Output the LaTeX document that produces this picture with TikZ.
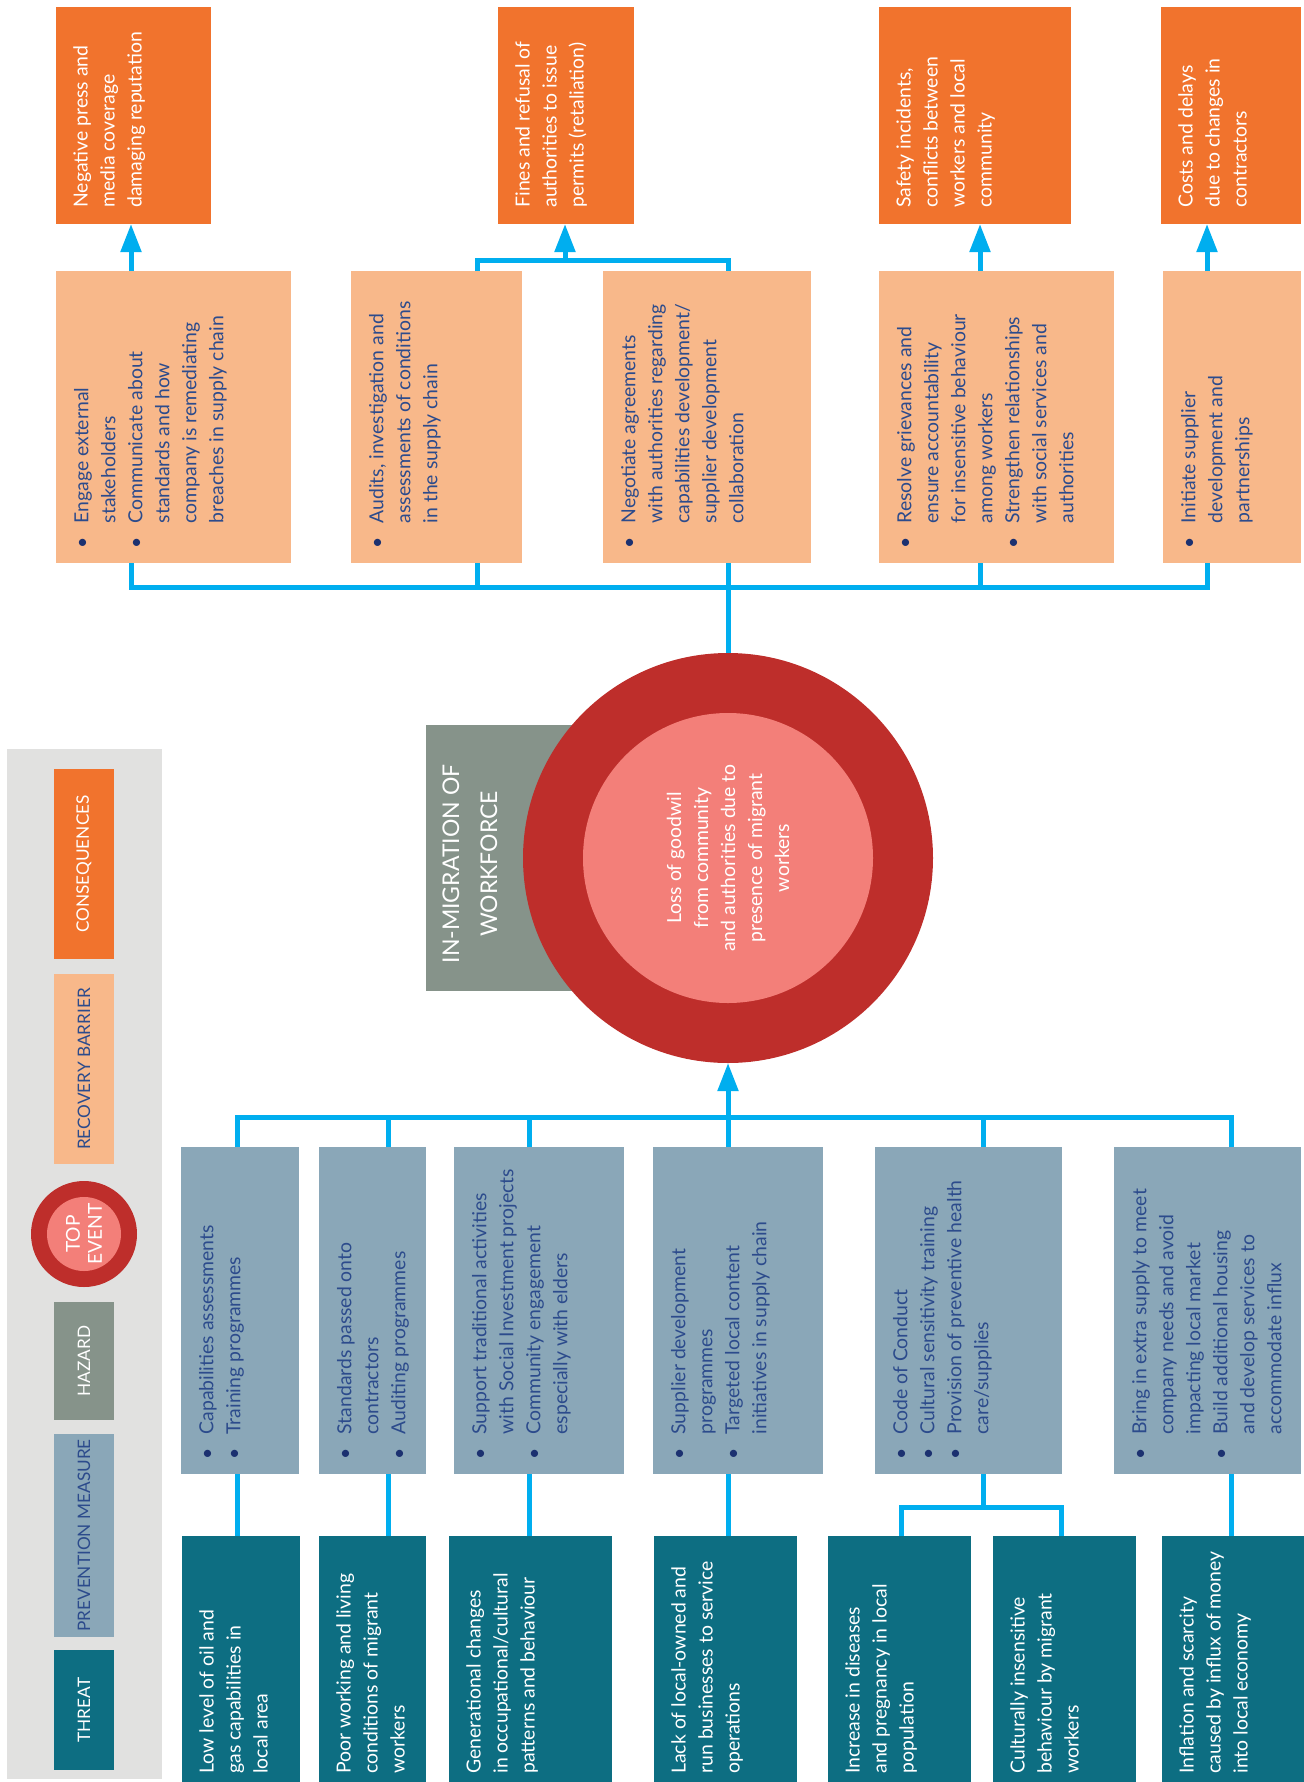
\documentclass[tikz,border=0pt]{standalone}
\usepackage{fontspec}
\setmainfont{Lato}
\usepackage{xcolor}
\usepackage{tikz}
\usetikzlibrary{arrows.meta,positioning,fit,calc}
\definecolor{bowOrange}{HTML}{F1732D}
\definecolor{bowPeach}{HTML}{F8B88A}
\definecolor{bowSlate}{HTML}{8AA7B8}
\definecolor{bowTeal}{HTML}{0D6E82}
\definecolor{bowHazard}{HTML}{86938A}
\definecolor{bowRed}{HTML}{BE2E2B}
\definecolor{bowPink}{HTML}{F37F79}
\definecolor{bowLink}{HTML}{00AEEF}
\definecolor{bowPanel}{HTML}{E1E1E0}
\definecolor{bowText}{HTML}{2C4B8C}
\definecolor{bowNavy}{HTML}{1C3170}
\newenvironment{blist}{\begin{tabular}{@{}l@{\hspace{7pt}}l@{}}}{\end{tabular}}
\newcommand{\itm}{\textcolor{bowNavy}{\textbullet} &}
\newcommand{\nxt}{\\ &}

\begin{document}
\begin{tikzpicture}[
    x=0.5pt, y=-0.5pt,
    font=\fontsize{9.7}{13.5}\selectfont,
    blk/.style={inner sep=0pt, outer sep=0pt},
    cons/.style={blk, fill=bowOrange},
    recov/.style={blk, fill=bowPeach},
    prev/.style={blk, fill=bowSlate},
    threat/.style={blk, fill=bowTeal},
    txt/.style={rotate=90, anchor=north west, align=left, inner sep=0pt},
    wtxt/.style={txt, text=white},
    btxt/.style={txt, text=bowText},
    legtxt/.style={rotate=90, align=center, inner sep=0pt, font=\fontsize{8.6}{11}\selectfont},
    conn/.style={draw=bowLink, line width=2.5pt},
    arr/.style={conn, -{Triangle[width=10pt, length=14pt]}}
]
\useasboundingbox (0,0) rectangle (1304,1782);

% legend
\node[blk, fill=bowPanel, fit={(7,749) (162,1779)}] (legend) {};
\node[cons, fit={(54,769) (114,959)}] (lcons) {};
\node[legtxt, text=white] (lconst) at (lcons.center) {CONSEQUENCES};
\node[recov, fit={(54,974) (114,1164)}] (lrecov) {};
\node[legtxt, text=bowText] (lrecovt) at (lrecov.center) {RECOVERY BARRIER};
\node[blk, circle, fill=bowRed, minimum size=53pt] (ltop) at (84,1234) {};
\node[blk, circle, fill=bowPink, minimum size=37pt] (ltopin) at (ltop.center) {};
\node[legtxt, text=white, font=\fontsize{9.6}{11}\selectfont] (ltopt) at (ltop.center) {TOP\\EVENT};
\node[blk, fill=bowHazard, fit={(54,1302) (114,1420)}] (lhaz) {};
\node[legtxt, text=white] (lhazt) at (lhaz.center) {HAZARD};
\node[prev, fit={(54,1434) (114,1637)}] (lprev) {};
\node[legtxt, text=bowText] (lprevt) at (lprev.center) {PREVENTION MEASURE};
\node[threat, fit={(54,1650) (114,1770)}] (lthreat) {};
\node[legtxt, text=white] (lthreatt) at (lthreat.center) {THREAT};

% consequences
\node[cons, fit={(56,7) (211,224)}] (c1) {};
\node[cons, fit={(498,7) (634,224)}] (c2) {};
\node[cons, fit={(879,7) (1071,224)}] (c3) {};
\node[cons, fit={(1161,7) (1301,224)}] (c4) {};
\node[wtxt] (c1t) at ([shift={(17,-16)}]c1.south west) {Negative press and\\media coverage\\damaging reputation};
\node[wtxt] (c2t) at ([shift={(17,-16)}]c2.south west) {Fines and refusal of\\authorities to issue\\permits (retaliation)};
\node[wtxt] (c3t) at ([shift={(17,-16)}]c3.south west) {Safety incidents,\\conflicts between\\workers and local\\community};
\node[wtxt] (c4t) at ([shift={(17,-16)}]c4.south west) {Costs and delays\\due to changes in\\contractors};

% recovery barriers
\node[recov, fit={(56,271) (291,563)}] (r1) {};
\node[recov, fit={(351,271) (522,563)}] (r2) {};
\node[recov, fit={(603,271) (811,563)}] (r3) {};
\node[recov, fit={(879,271) (1114,563)}] (r4) {};
\node[recov, fit={(1163,271) (1301,563)}] (r5) {};
\node[btxt] (r1t) at ([shift={(13,-14)}]r1.south west) {\begin{blist}\itm Engage external\nxt stakeholders\\ \itm Communicate about\nxt standards and how\nxt company is remediating\nxt breaches in supply chain\end{blist}};
\node[btxt] (r2t) at ([shift={(13,-14)}]r2.south west) {\begin{blist}\itm Audits, investigation and\nxt assessments of conditions\nxt in the supply chain\end{blist}};
\node[btxt] (r3t) at ([shift={(13,-14)}]r3.south west) {\begin{blist}\itm Negotiate agreements\nxt with authorities regarding\nxt capabilities development/\nxt supplier development\nxt collaboration\end{blist}};
\node[btxt] (r4t) at ([shift={(13,-14)}]r4.south west) {\begin{blist}\itm Resolve grievances and\nxt ensure accountability\nxt for insensitive behaviour\nxt among workers\\ \itm Strengthen relationships\nxt with social services and\nxt authorities\end{blist}};
\node[btxt] (r5t) at ([shift={(13,-14)}]r5.south west) {\begin{blist}\itm Initiate supplier\nxt development and\nxt partnerships\end{blist}};

% hazard and top event
\node[blk, fill=bowHazard, fit={(426,725) (620,991)}] (haz) {};
\node[blk, circle, fill=bowRed, minimum size=205pt] (top) at (728,858) {};
\node[blk, circle, fill=bowPink, minimum size=145pt] (topin) at (top.center) {};
\node[legtxt, text=white, font=\fontsize{11.5}{19}\selectfont] (hazt) at (470,864) {IN-MIGRATION OF\\WORKFORCE};
\node[legtxt, text=white, font=\fontsize{9.7}{13.5}\selectfont] (topt) at (top.center) {Loss of goodwil\\from community\\and authorities due to\\presence of migrant\\workers};

% prevention measures
\node[prev, fit={(181,1147) (299,1474)}] (p1) {};
\node[prev, fit={(319,1147) (426,1474)}] (p2) {};
\node[prev, fit={(454,1147) (624,1474)}] (p3) {};
\node[prev, fit={(653,1147) (823,1474)}] (p4) {};
\node[prev, fit={(875,1147) (1062,1474)}] (p5) {};
\node[prev, fit={(1114,1147) (1301,1474)}] (p6) {};
\node[btxt] (p1t) at ([shift={(13,-14)}]p1.south west) {\begin{blist}\itm Capabilities assessments\\ \itm Training programmes\end{blist}};
\node[btxt] (p2t) at ([shift={(13,-14)}]p2.south west) {\begin{blist}\itm Standards passed onto\nxt contractors\\ \itm Auditing programmes\end{blist}};
\node[btxt] (p3t) at ([shift={(13,-14)}]p3.south west) {\begin{blist}\itm Support traditional activities\nxt with Social Investment projects\\ \itm Community engagement\nxt especially with elders\end{blist}};
\node[btxt] (p4t) at ([shift={(13,-14)}]p4.south west) {\begin{blist}\itm Supplier development\nxt programmes\\ \itm Targeted local content\nxt initiatives in supply chain\end{blist}};
\node[btxt] (p5t) at ([shift={(13,-14)}]p5.south west) {\begin{blist}\itm Code of Conduct\\ \itm Cultural sensitivity training\\ \itm Provision of preventive health\nxt care/supplies\end{blist}};
\node[btxt] (p6t) at ([shift={(13,-14)}]p6.south west) {\begin{blist}\itm Bring in extra supply to meet\nxt company needs and avoid\nxt impacting local market\\ \itm Build additional housing\nxt and develop services to\nxt accommodate influx\end{blist}};

% threats
\node[threat, fit={(182,1536) (300,1782)}] (t1) {};
\node[threat, fit={(319,1536) (426,1782)}] (t2) {};
\node[threat, fit={(449,1536) (612,1782)}] (t3) {};
\node[threat, fit={(654,1536) (797,1782)}] (t4) {};
\node[threat, fit={(828,1536) (971,1782)}] (t5) {};
\node[threat, fit={(993,1536) (1136,1782)}] (t6) {};
\node[threat, fit={(1162,1536) (1304,1782)}] (t7) {};
\node[wtxt] (t1t) at ([shift={(17,-8)}]t1.south west) {Low level of oil and\\gas capabilities in\\local area};
\node[wtxt] (t2t) at ([shift={(17,-8)}]t2.south west) {Poor working and living\\conditions of migrant\\workers};
\node[wtxt] (t3t) at ([shift={(17,-8)}]t3.south west) {Generational changes\\in occupational/cultural\\patterns and behaviour};
\node[wtxt] (t4t) at ([shift={(17,-8)}]t4.south west) {Lack of local-owned and\\run businesses to service\\operations};
\node[wtxt] (t5t) at ([shift={(17,-8)}]t5.south west) {Increase in diseases\\and pregnancy in local\\population};
\node[wtxt] (t6t) at ([shift={(17,-8)}]t6.south west) {Culturally insensitive\\behaviour by migrant\\workers};
\node[wtxt] (t7t) at ([shift={(17,-8)}]t7.south west) {Inflation and scarcity\\caused by influx of money\\into local economy};

% connector columns
\coordinate (ra) at (131,587);
\coordinate (rb) at (477,587);
\coordinate (rbus) at (728,587);
\coordinate (rd) at (980,587);
\coordinate (re) at (1207,587);
\coordinate (cj) at (565,260);
\coordinate (pa) at (237,1117);
\coordinate (pb) at (388,1117);
\coordinate (pc) at (529,1117);
\coordinate (pbus) at (728,1117);
\coordinate (pe) at (983,1117);
\coordinate (pf) at (1231,1117);
\coordinate (tj) at (983,1507);
\coordinate (t5k) at (901,1507);
\coordinate (t6k) at (1061,1507);

% recovery side
\draw[conn] (ra |- r1.south) -- (ra) -- (re) -- (re |- r5.south);
\draw[conn] (rb |- r2.south) -- (rb);
\draw[conn] (rd |- r4.south) -- (rd);
\draw[conn] (rbus |- r3.south) -- (top.north);
\draw[arr] (ra |- r1.north) -- (ra |- c1.south);
\draw[conn] (rb |- r2.north) |- (cj) -| (rbus |- r3.north);
\draw[arr] (cj) -- (cj |- c2.south);
\draw[arr] (rd |- r4.north) -- (rd |- c3.south);
\draw[arr] (re |- r5.north) -- (re |- c4.south);

% prevention side
\draw[conn] (pa |- p1.north) -- (pa) -- (pf) -- (pf |- p6.north);
\draw[conn] (pb |- p2.north) -- (pb);
\draw[conn] (pc |- p3.north) -- (pc);
\draw[conn] (pbus |- p4.north) -- (pbus);
\draw[conn] (pe |- p5.north) -- (pe);
\draw[arr] (pbus) -- (top.south);
\draw[conn] (pa |- t1.north) -- (pa |- p1.south);
\draw[conn] (pb |- t2.north) -- (pb |- p2.south);
\draw[conn] (pc |- t3.north) -- (pc |- p3.south);
\draw[conn] (pbus |- t4.north) -- (pbus |- p4.south);
\draw[conn] (pe |- p5.south) -- (tj);
\draw[conn] (t5k |- t5.north) -- (t5k) -- (t6k) -- (t6k |- t6.north);
\draw[conn] (pf |- t7.north) -- (pf |- p6.south);

\end{tikzpicture}
\end{document}
